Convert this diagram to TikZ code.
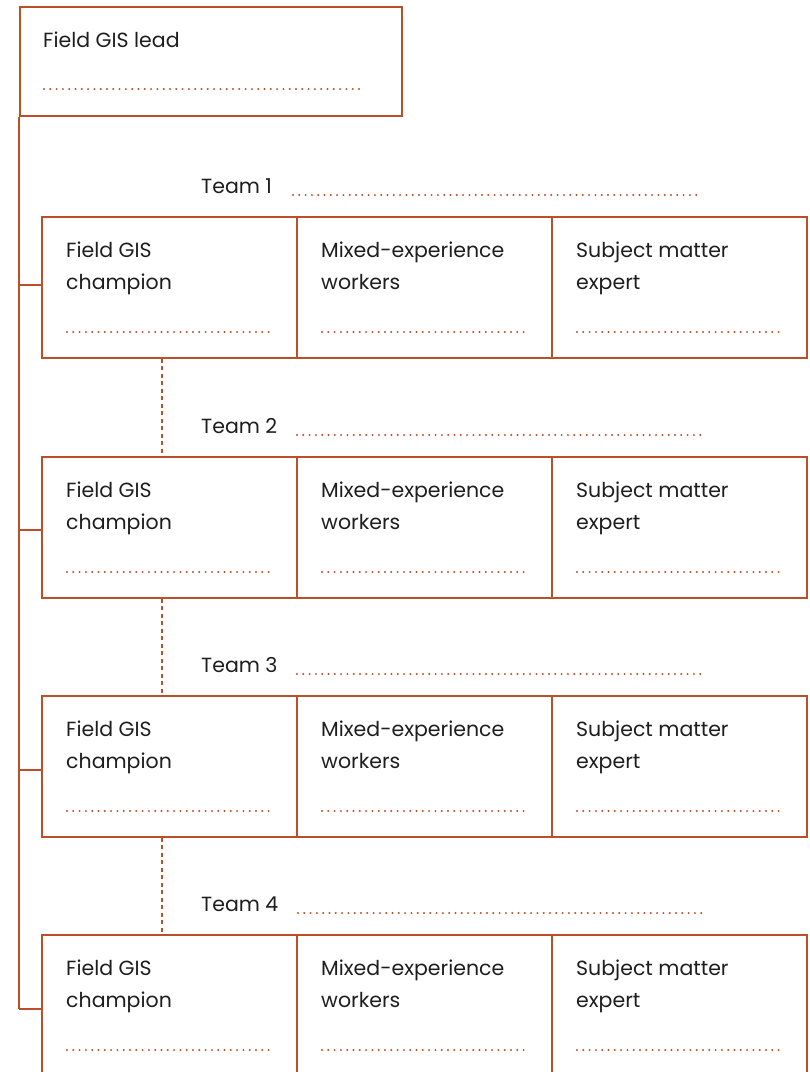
\documentclass[tikz,border=0pt]{standalone}
\usepackage{fontspec}
\setmainfont{Poppins}
\definecolor{rust}{RGB}{188,78,40}
\definecolor{ink}{RGB}{30,30,30}
\begin{document}
\begin{tikzpicture}[x=1pt,y=-1pt,
  frame/.style={draw=rust,line width=1.7pt,rectangle,inner sep=0pt,anchor=north west},
  cell/.style={frame,minimum width=255pt,minimum height=141pt},
  txt/.style={anchor=base west,inner sep=0pt,text=ink,font=\fontsize{20.5}{32}\selectfont},
  dots/.style={draw=rust,line width=2.2pt,line cap=round,dash pattern=on 0pt off 6.3pt},
  link/.style={draw=rust,line width=1.7pt},
  dlink/.style={draw=rust,line width=1.7pt,dash pattern=on 4pt off 3.5pt}]
\useasboundingbox (0,0) rectangle (810,1072);
% lead
\node[frame,minimum width=382pt,minimum height=109pt] (lead) at (19,6) {};
\node[txt] (leadt) at (43,47) {Field GIS lead};
\coordinate (ld1) at (44,89); \coordinate (ld2) at (361,89);
\draw[dots] (ld1) -- (ld2);
% teams
\foreach \t/\top/\tick/\tx in {1/216/69/293,2/456/74/297,3/695/75/297,4/934/75/298}{
  \node[cell] (c\t1) at (41,\top) {};
  \node[cell] (c\t2) at (296,\top) {};
  \node[cell] (c\t3) at (551,\top) {};
  \node[txt] (team\t) at (201,\top-23) {Team \t};
  \coordinate (td\t a) at (\tx,\top-21);
  \coordinate (td\t b) at (702,\top-21);
  \draw[dots] (td\t a) -- (td\t b);
  \node[txt] (f\t) at (66,\top+41) {Field GIS};
  \node[txt] (g\t) at (66,\top+73) {champion};
  \node[txt] (m\t) at (321,\top+41) {Mixed-experience};
  \node[txt] (w\t) at (321,\top+73) {workers};
  \node[txt] (s\t) at (576,\top+41) {Subject matter};
  \node[txt] (e\t) at (576,\top+73) {expert};
  \foreach \k/\xx in {1/66,2/321,3/576}{
    \coordinate (cd\t\k a) at (\xx+1,\top+116);
    \coordinate (cd\t\k b) at (\xx+205,\top+116);
    \draw[dots] (cd\t\k a) -- (cd\t\k b);
  }
  \coordinate (tk\t) at (19,\top+\tick);
  \draw[link] (tk\t) -- (tk\t -| c\t1.west);
}
% trunk
\draw[link] (lead.south west) -- (tk4);
% dashed links between teams
\foreach \a/\b in {1/2,2/3,3/4}{
  \draw[dlink] ([xshift=121pt]c\a1.south west) -- ([xshift=121pt]c\b1.north west);
}
\end{tikzpicture}
\end{document}
